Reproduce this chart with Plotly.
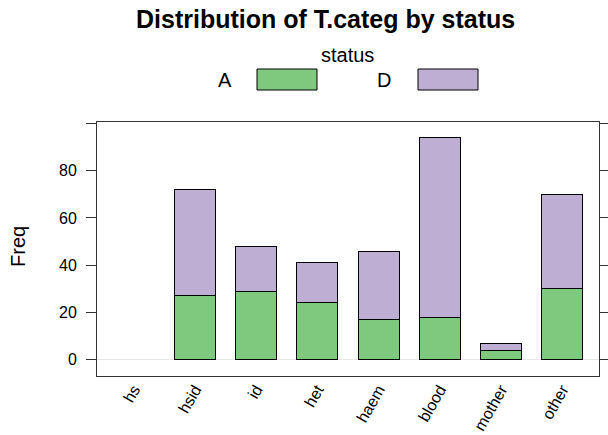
import plotly.graph_objects as go

categories = ["hs", "hsid", "id", "het", "haem", "blood", "mother", "other"]
freq_A = [0, 27, 29, 24, 17, 18, 4, 30]
freq_D = [0, 45, 19, 17, 29, 76, 3, 40]
y_ticks = [0, 20, 40, 60, 80, 100]
y_ticklabels = ["0", "20", "40", "60", "80", ""]

W, H = 608, 435
L, R, T, B = 97, 599, 122, 376
def px(x):
    return (x - L) / (R - L)
def py(y):
    return (B - y) / (B - T)

FONT = "Liberation Sans, Arial, sans-serif"
green = "#7FC97F"
purple = "#BEAED4"

def outline(vals):
    return [0 if v == 0 else 1 for v in vals]

fig = go.Figure()
fig.add_trace(go.Bar(x=categories, y=freq_A, name="A",
                     marker=dict(color=green, line=dict(color="black", width=outline(freq_A))), width=0.67))
fig.add_trace(go.Bar(x=categories, y=freq_D, name="D",
                     marker=dict(color=purple, line=dict(color="black", width=outline(freq_D))), width=0.67))

fig.update_layout(
    barmode="stack",
    width=W, height=H,
    margin=dict(l=L, r=W - R, t=T, b=H - B, autoexpand=False),
    plot_bgcolor="white", paper_bgcolor="white",
    showlegend=False,
    font=dict(family=FONT, size=20, color="black"),
)
fig.update_xaxes(
    type="category", range=[-0.6, 7.6], showline=True, mirror=True, linecolor="#333333", linewidth=1,
    ticks="", tickangle=-60, showgrid=False, tickfont=dict(size=16), ticklabelstandoff=-3,
    automargin=False,
)
fig.update_yaxes(
    range=[-6.9, 100.6], tickvals=y_ticks, ticktext=y_ticklabels, showline=True, mirror="ticks",
    linecolor="#333333", linewidth=1, ticks="outside", ticklen=10, tickcolor="#333333",
    showgrid=False, zeroline=True, zerolinecolor="#E8E8E8", zerolinewidth=1,
    tickfont=dict(size=16), ticklabelstandoff=6, automargin=False,
)

fig.add_annotation(text="<b>Distribution of T.categ by status</b>", xref="paper", yref="paper",
                   x=px(325), y=py(19), showarrow=False, xanchor="center", yanchor="middle",
                   font=dict(size=25))
fig.add_annotation(text="Freq", xref="paper", yref="paper", x=px(18), y=py(247), showarrow=False,
                   textangle=-90, xanchor="center", yanchor="middle", font=dict(size=20))

# legend (key) drawn above the panel
fig.add_shape(type="rect", xref="paper", yref="paper", x0=px(257), x1=px(317), y0=py(90), y1=py(69),
              fillcolor=green, line=dict(color="black", width=1))
fig.add_shape(type="rect", xref="paper", yref="paper", x0=px(418), x1=px(478), y0=py(90), y1=py(69),
              fillcolor=purple, line=dict(color="black", width=1))
fig.add_annotation(text="A", xref="paper", yref="paper", x=px(225), y=py(80), showarrow=False,
                   xanchor="center", yanchor="middle", font=dict(size=20))
fig.add_annotation(text="D", xref="paper", yref="paper", x=px(384), y=py(80), showarrow=False,
                   xanchor="center", yanchor="middle", font=dict(size=20))
fig.add_annotation(text="status", xref="paper", yref="paper", x=px(347), y=py(55), showarrow=False,
                   xanchor="center", yanchor="middle", font=dict(size=20))

fig.write_html("out.html", config={"displayModeBar": False},
               post_script="document.body.style.margin='0';")
